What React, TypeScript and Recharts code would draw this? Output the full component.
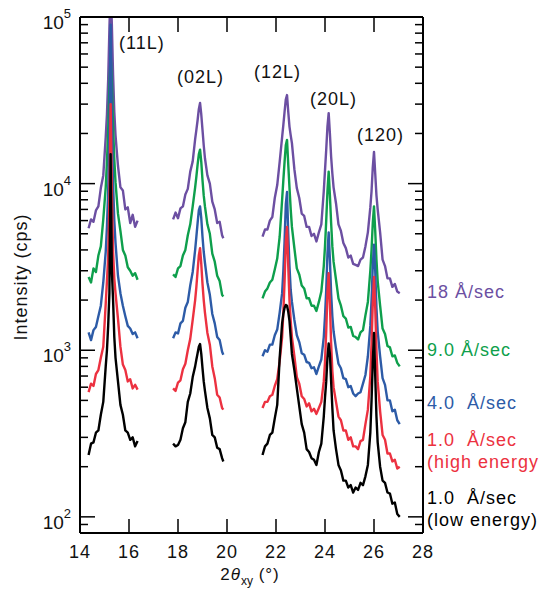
import { LineChart, Line, XAxis, YAxis } from 'recharts';

const FONT = '"Liberation Sans", Arial, sans-serif';

// 2theta positions (deg) for the three measured windows
const X_11L = [14.35, 14.45, 14.55, 14.65, 14.75, 14.85, 14.95, 15.05, 15.1, 15.15, 15.2, 15.25, 15.3, 15.35, 15.4, 15.45, 15.55, 15.65, 15.75, 15.85, 15.95, 16.05, 16.15, 16.25, 16.35];
const X_02L = [17.8, 17.9, 18.0, 18.1, 18.2, 18.3, 18.4, 18.5, 18.6, 18.7, 18.75, 18.8, 18.85, 18.9, 18.95, 19.0, 19.05, 19.1, 19.2, 19.3, 19.4, 19.5, 19.6, 19.7, 19.8, 19.85];
const X_HIGH = [
  21.45, 21.55, 21.65, 21.75, 21.85, 21.95, 22.05, 22.15,
  22.25, 22.3, 22.35, 22.4, 22.45, 22.5, 22.55, 22.6, 22.65,
  22.75, 22.85, 22.95, 23.05, 23.15, 23.25, 23.35, 23.45, 23.55, 23.65, 23.75, 23.85, 23.95,
  24.0, 24.05, 24.1, 24.15, 24.2, 24.25, 24.3, 24.35,
  24.45, 24.55, 24.65, 24.75, 24.85, 24.95, 25.05, 25.15, 25.25, 25.35, 25.45, 25.55, 25.65, 25.75, 25.85,
  25.9, 25.95, 26.0, 26.05, 26.1, 26.15,
  26.25, 26.35, 26.45, 26.55, 26.65, 26.75, 26.85, 26.95, 27.05,
];

// intensities (cps), one list per window
const PURPLE = [
  [5400, 6100, 5900, 6900, 7300, 9400, 11200, 19000, 26000, 42000, 85000, 150000, 90000, 45000, 27000, 19500, 12800, 9500, 9100, 7000, 7200, 5800, 6500, 5500, 6000],
  [6100, 6700, 6200, 7100, 7300, 8600, 9300, 11800, 13600, 18500, 21000, 24000, 28000, 30500, 26000, 21000, 17000, 14200, 11200, 10000, 7800, 7000, 5800, 5900, 4900, 4700],
  [
    4800, 5300, 5300, 6000, 6300, 8200, 9800, 13500,
    19000, 22500, 27000, 32000, 34000, 27000, 22000, 19500, 17500,
    12200, 9400, 8200, 6600, 6400, 5500, 5500, 4850, 5000, 4500, 5100, 5700, 9000,
    12000, 16000, 22000, 26500, 20000, 14500, 11500, 9500,
    7600, 5700, 5200, 4400, 4100, 3600, 3700, 3300, 3250, 3200, 3500, 3600, 4200, 5100, 7200,
    9000, 12500, 15500, 11500, 8500, 7000,
    5100, 3500, 3200, 2700, 2700, 2400, 2500, 2250, 2200,
  ],
];
const GREEN = [
  [2750, 2550, 3100, 2950, 3700, 4200, 6100, 9500, 13500, 21000, 38000, 60000, 40000, 22000, 14000, 10200, 6600, 5200, 4000, 3700, 3150, 3000, 2800, 2900, 2650],
  [2850, 2750, 3100, 3200, 3700, 4000, 4900, 5700, 7300, 9500, 11000, 13000, 15000, 16000, 13500, 10500, 8500, 7300, 5700, 5000, 3800, 3400, 2800, 2600, 2150, 2100],
  [
    2050, 2250, 2350, 2550, 2650, 3050, 3550, 4800,
    8000, 10500, 13500, 17000, 18300, 13000, 9500, 7000, 5500,
    4100, 3100, 2850, 2450, 2350, 2050, 2050, 1850, 1850, 1720, 1950, 2250, 3200,
    4200, 6000, 9000, 11800, 8500, 5800, 4200, 3400,
    2650, 2050, 1850, 1600, 1550, 1370, 1380, 1220, 1200, 1160, 1280, 1320, 1620, 1950, 3000,
    4000, 5800, 7300, 5200, 3500, 2600,
    1850, 1350, 1250, 1060, 1040, 920, 930, 840, 800,
  ],
];
const BLUE = [
  [1280, 1150, 1320, 1380, 1600, 1850, 2550, 3900, 5500, 9000, 20000, 90000, 24000, 10000, 6000, 4400, 2800, 2200, 1850, 1600, 1400, 1350, 1250, 1280, 1180],
  [1180, 1280, 1260, 1450, 1500, 1800, 1950, 2450, 2950, 4000, 4800, 5800, 6900, 7300, 6200, 4800, 3900, 3350, 2550, 2150, 1650, 1450, 1200, 1150, 980, 940],
  [
    920, 1000, 980, 1080, 1080, 1230, 1330, 1680,
    2200, 3000, 4500, 7500, 8900, 5000, 3200, 2300, 1950,
    1520, 1230, 1120, 960, 940, 850, 840, 780, 790, 720, 800, 880, 1200,
    1600, 2300, 3800, 5100, 3500, 2200, 1600, 1300,
    1020, 830, 780, 680, 670, 600, 610, 550, 530, 550, 560, 630, 710, 920, 1400,
    2000, 3200, 4300, 3000, 1800, 1300,
    920, 680, 620, 500, 500, 430, 440, 380, 360,
  ],
];
const RED = [
  [560, 630, 610, 720, 760, 900, 1050, 1900, 2600, 3600, 8000, 30000, 9000, 3900, 2700, 2200, 1550, 1050, 820, 760, 650, 670, 590, 620, 580],
  [590, 570, 640, 660, 770, 830, 1000, 1170, 1520, 2000, 2400, 3000, 3700, 4100, 3300, 2500, 2000, 1680, 1270, 1080, 800, 680, 540, 520, 450, 440],
  [
    450, 490, 490, 530, 540, 610, 670, 860,
    1200, 1700, 2600, 4500, 5500, 3200, 2000, 1500, 1200,
    920, 690, 630, 530, 510, 460, 480, 430, 445, 415, 450, 490, 650,
    850, 1300, 2200, 2900, 1900, 1100, 750, 600,
    490, 400, 380, 330, 330, 290, 300, 265, 265, 255, 285, 290, 360, 440, 700,
    1100, 1900, 2750, 1800, 1000, 650,
    430, 310, 290, 240, 240, 215, 220, 195, 200,
  ],
];
const BLACK = [
  [235, 275, 280, 320, 330, 410, 490, 800, 1000, 1400, 2200, 15000, 3000, 2000, 1200, 900, 650, 470, 410, 330, 320, 290, 300, 265, 285],
  [275, 265, 270, 290, 340, 370, 490, 550, 690, 800, 880, 960, 1050, 1090, 950, 780, 650, 570, 450, 390, 310, 300, 260, 255, 225, 215],
  [
    235, 265, 275, 310, 320, 390, 470, 900,
    1450, 1650, 1800, 1870, 1850, 1700, 1500, 1200, 950,
    760, 590, 460, 360, 320, 255, 245, 225, 220, 205, 245, 275, 400,
    520, 650, 900, 1100, 950, 650, 450, 330,
    255, 205, 190, 165, 165, 150, 155, 140, 150, 145, 160, 155, 175, 205, 320,
    500, 850, 1270, 700, 400, 280,
    200, 165, 160, 140, 138, 120, 122, 104, 100,
  ],
];

const X_TICKS = [14, 16, 18, 20, 22, 24, 26, 28];
const Y_MAJOR = [100, 1000, 10000, 100000];
const Y_TICKS = [
  90, 100, 200, 300, 400, 500, 600, 700, 800, 900,
  1000, 2000, 3000, 4000, 5000, 6000, 7000, 8000, 9000,
  10000, 20000, 30000, 40000, 50000, 60000, 70000, 80000, 90000, 100000,
];

const PEAK_LABELS = ['(11L)', '(02L)', '(12L)', '(20L)', '(120)'];

// drawn back to front
const SERIES = [
  { key: 'purple', color: '#6c4fa2', values: PURPLE, label: ['18 Å/sec'] },
  { key: 'green', color: '#0e9f4c', values: GREEN, label: ['9.0 Å/sec'] },
  { key: 'blue', color: '#2d5ba7', values: BLUE, label: ['4.0\u00a0\u00a0Å/sec'] },
  { key: 'red', color: '#ec3140', values: RED, label: ['1.0\u00a0\u00a0Å/sec', '(high energy'] },
  { key: 'black', color: '#000000', values: BLACK, label: ['1.0\u00a0\u00a0Å/sec', '(low energy)'] },
];

const SEGMENTS = [X_11L, X_02L, X_HIGH];
const rows: Record<string, number | null>[] = [];
SEGMENTS.forEach((xs, s) => {
  xs.forEach((x, i) => {
    const row: Record<string, number | null> = { x };
    SERIES.forEach((sr) => { row[sr.key] = sr.values[s][i]; });
    rows.push(row);
  });
  if (s < SEGMENTS.length - 1) {
    const gap: Record<string, number | null> = { x: (xs[xs.length - 1] + SEGMENTS[s + 1][0]) / 2 };
    SERIES.forEach((sr) => { gap[sr.key] = null; });
    rows.push(gap);
  }
});

const W = 546;
const H = 594;
const LEFT = 80;
const RIGHT = 423;
const TOP = 17;
const BOTTOM = 533;

const LeftTick = (props: any) => {
  const { x, y, payload } = props;
  const major = Y_MAJOR.includes(payload.value);
  return (
    <g>
      <line x1={x} x2={x + (major ? 15 : 8)} y1={y} y2={y} stroke="#000" strokeWidth={1.5} />
      {major && (
        <text x={x - 9} y={y + 12} textAnchor="end" fontSize={19} fontFamily={FONT} fill="#111">
          10<tspan dy={-11} fontSize={13}>{Math.round(Math.log10(payload.value))}</tspan>
        </text>
      )}
    </g>
  );
};

const RightTick = (props: any) => {
  const { x, y, payload } = props;
  const major = Y_MAJOR.includes(payload.value);
  return <line x1={x} x2={x - (major ? 15 : 8)} y1={y} y2={y} stroke="#000" strokeWidth={1.5} />;
};

const BottomTick = (props: any) => {
  const { x, y, payload } = props;
  return (
    <g>
      <line x1={x} x2={x} y1={y} y2={y - 14} stroke="#000" strokeWidth={1.5} />
      <text x={x} y={y + 25} textAnchor="middle" fontSize={18} fontFamily={FONT} fill="#111" letterSpacing={1}>
        {payload.value}
      </text>
    </g>
  );
};

const TopTick = (props: any) => {
  const { x, y } = props;
  return <line x1={x} x2={x} y1={y} y2={y + 15} stroke="#000" strokeWidth={1.5} />;
};

export default function App() {
  const labelY = [298, 356, 409, 446, 504];
  const peakPos = [[119, 49], [177, 83], [254, 78], [310, 105], [357, 141]];
  return (
    <div style={{ position: 'absolute', left: 0, top: 0, width: W, height: H, background: '#fff' }}>
      <LineChart width={W} height={H} data={rows} margin={{ top: 0, right: 103, bottom: 0, left: 0 }}>
        <XAxis
          dataKey="x"
          type="number"
          domain={[14, 28]}
          ticks={X_TICKS}
          interval={0}
          allowDataOverflow
          height={H - BOTTOM}
          tickSize={0}
          tickMargin={0}
          tickLine={false}
          axisLine={{ stroke: '#000', strokeWidth: 2 }}
          tick={BottomTick}
        />
        <XAxis
          xAxisId="top"
          orientation="top"
          dataKey="x"
          type="number"
          domain={[14, 28]}
          ticks={X_TICKS}
          interval={0}
          allowDataOverflow
          height={TOP}
          tickSize={0}
          tickMargin={0}
          tickLine={false}
          axisLine={{ stroke: '#000', strokeWidth: 2 }}
          tick={TopTick}
        />
        <YAxis
          type="number"
          scale="log"
          domain={[80, 100000]}
          ticks={Y_TICKS}
          interval={0}
          allowDataOverflow
          width={LEFT}
          tickSize={0}
          tickMargin={0}
          tickLine={false}
          axisLine={{ stroke: '#000', strokeWidth: 2 }}
          tick={LeftTick}
        />
        <YAxis
          yAxisId="right"
          orientation="right"
          type="number"
          scale="log"
          domain={[80, 100000]}
          ticks={Y_TICKS}
          interval={0}
          allowDataOverflow
          width={W - RIGHT - 103}
          tickSize={0}
          tickMargin={0}
          tickLine={false}
          axisLine={{ stroke: '#000', strokeWidth: 2 }}
          tick={RightTick}
        />
        {SERIES.map((sr) => (
          <Line
            key={sr.key}
            dataKey={sr.key}
            stroke={sr.color}
            strokeWidth={2.4}
            strokeLinejoin="round"
            dot={false}
            activeDot={false}
            connectNulls={false}
            isAnimationActive={false}
          />
        ))}
      </LineChart>
      <svg width={W} height={H} style={{ position: 'absolute', left: 0, top: 0, pointerEvents: 'none' }}>
        <g fontFamily={FONT} fontSize={18} letterSpacing={1} fill="#111">
          {PEAK_LABELS.map((t, i) => (
            <text key={t} x={peakPos[i][0]} y={peakPos[i][1]}>{t}</text>
          ))}
          <text x={27} y={277} textAnchor="middle" transform="rotate(-90, 27, 277)">Intensity (cps)</text>
          <text x={250} y={580} textAnchor="middle" fontSize={17}>
            2<tspan fontStyle="italic">θ</tspan>
            <tspan dy={5} fontSize={12} letterSpacing={0}>xy</tspan>
            <tspan dy={-5}> (°)</tspan>
          </text>
          {SERIES.map((sr, i) => (
            <text key={sr.key} x={427} y={labelY[i]} fill={sr.color}>
              {sr.label.map((line, j) => (
                <tspan key={j} x={427} dy={j === 0 ? 0 : 22}>{line}</tspan>
              ))}
            </text>
          ))}
        </g>
      </svg>
    </div>
  );
}
